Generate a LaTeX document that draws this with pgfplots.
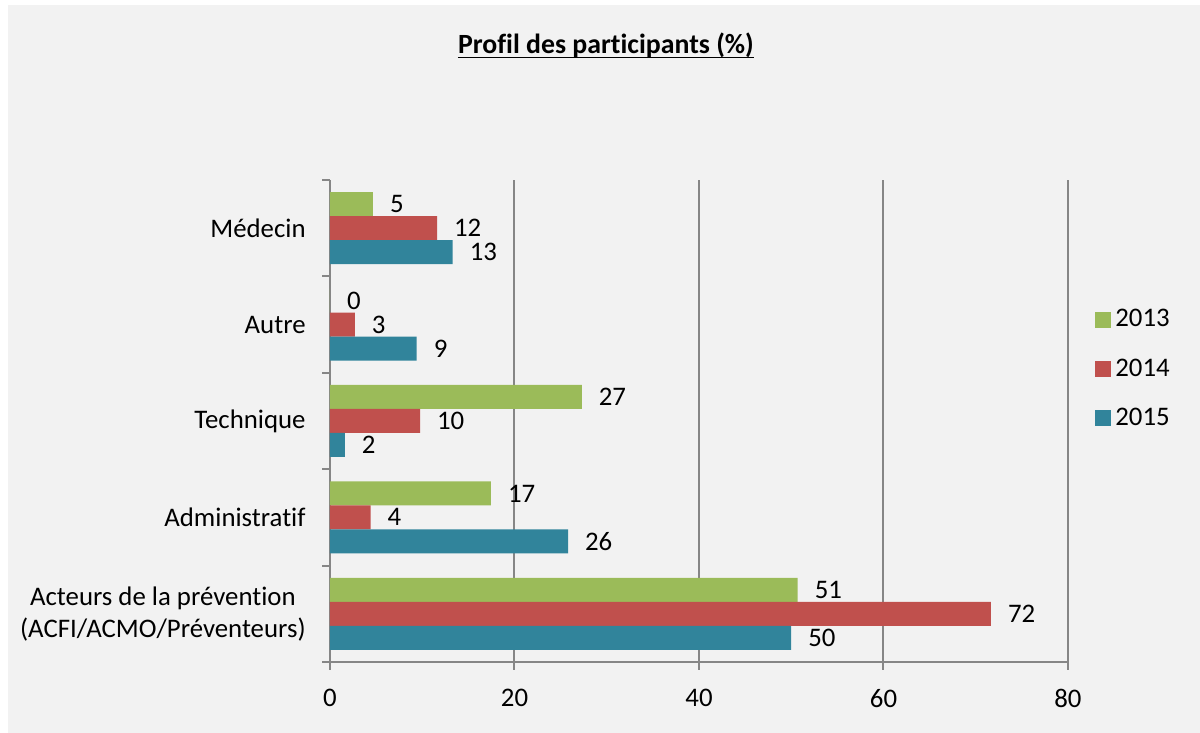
\documentclass[border=0pt]{standalone}
\usepackage{pgfplots}
\pgfplotsset{compat=1.18}
\usepackage{fontspec}
\setmainfont[Ligatures={NoCommon}]{Carlito}
\definecolor{cgreen}{HTML}{9BBB59}
\definecolor{cred}{HTML}{C0504D}
\definecolor{cteal}{HTML}{31849B}
\definecolor{cgrid}{HTML}{868686}
\definecolor{cbg}{HTML}{F2F2F2}
\newcommand{\ti}{t\kern0pt i}
\begin{document}
\begin{tikzpicture}[x=1pt,y=1pt]
\fill[white] (0,0) rectangle (600,366.5);
\fill[cbg] (4,0) rectangle (600,364);
\node[font=\fontsize{13.9}{16}\selectfont\bfseries, inner sep=0pt] (t) at (303,344) {Profil des par\ti cipants (\%)};
\draw[line width=0.9pt] ([yshift=-2.2pt]t.base west) -- ([yshift=-2.2pt]t.base east);
\begin{axis}[
  at={(165pt,35.5pt)}, anchor=south west,
  scale only axis, width=369pt, height=241pt,
  xbar, bar width=12pt,
  xmin=0, xmax=80, ymin=-0.5, ymax=4.5,
  axis x line*=bottom, axis y line*=left,
  axis line style={cgrid, line width=1pt, -},
  xtick={0,20,40,60,80},
  xmajorgrids, grid style={cgrid, line width=1pt},
  major x tick style={cgrid, line width=1pt},
  tick align=outside, major tick length=4pt,
  ytick={0,1,2,3,4},
  yticklabels={{Acteurs de la préven\ti on\\(ACFI/ACMO/Préventeurs)},Administra\ti f,Technique,Autre,Médecin},
  yticklabel style={align=center, inner sep=0pt, xshift=-8pt},
  major y tick style={draw=none},
  minor ytick={-0.5,0.5,1.5,2.5,3.5,4.5},
  minor y tick style={cgrid, line width=1pt},
  minor tick length=4pt,
  ymajorgrids=false, yminorgrids=false,
  tick label style={font=\fontsize{13.4}{16}\selectfont},
  xticklabel style={yshift=-6pt},
  /pgf/number format/assume math mode=true,
  nodes near coords,
  nodes near coords style={font=\fontsize{13.4}{16}\selectfont, anchor=west, xshift=5pt, /pgf/number format/fixed, /pgf/number format/precision=0},
  legend style={draw=none, fill=none, at={(1.0366,0.608)}, anchor=west, inner sep=0pt, row sep=10.5pt, font=\fontsize{13.4}{16}\selectfont, cells={anchor=west}},
  legend image code/.code={\fill[#1] (0pt,-4pt) rectangle (8pt,4pt);},
  every legend entry/.append style={xshift=2.5pt},
]
\addplot[fill=cgreen, draw=none, bar shift=12pt] coordinates {(50.7,0) (17.45,1) (27.3,2) (0,3) (4.66,4)};
\addplot[fill=cred, draw=none, bar shift=0pt] coordinates {(71.65,0) (4.4,1) (9.76,2) (2.7,3) (11.6,4)};
\addplot[fill=cteal, draw=none, bar shift=-12pt] coordinates {(50.0,0) (25.8,1) (1.6,2) (9.4,3) (13.3,4)};
\legend{2013,2014,2015}
\end{axis}
\end{tikzpicture}
\end{document}
